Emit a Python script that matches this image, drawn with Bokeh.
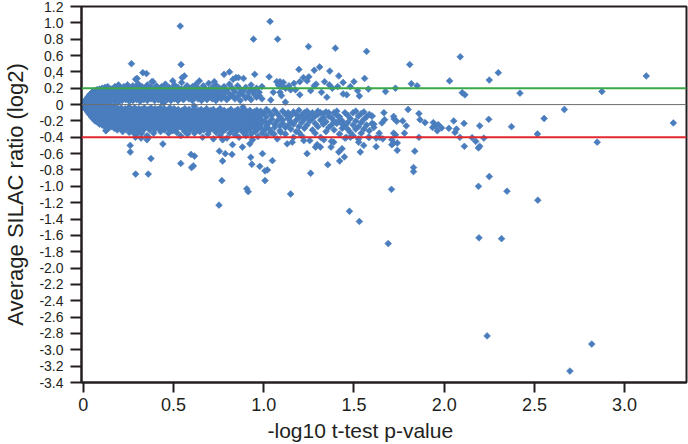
import math
from bokeh.plotting import figure
from bokeh.models import Range1d, FixedTicker, Span, Title
from bokeh.embed import file_html
from bokeh.resources import INLINE

# ---------------- chart values ----------------
upper_threshold = 0.2
lower_threshold = -0.4
zero_level = 0.0

x_ticks = [0, 0.5, 1.0, 1.5, 2.0, 2.5, 3.0]
x_tick_labels = ["0", "0.5", "1.0", "1.5", "2.0", "2.5", "3.0"]
y_ticks = [1.2, 1.0, 0.8, 0.6, 0.4, 0.2, 0, -0.2, -0.4, -0.6, -0.8, -1.0, -1.2,
           -1.4, -1.6, -1.8, -2.0, -2.2, -2.4, -2.6, -2.8, -3.0, -3.2, -3.4]
y_tick_labels = ["1.2", "1.0", "0.8", "0.6", "0,4", "0.2", "0", "-0.2", "-0.4",
                 "-0.6", "-0.8", "-1.0", "-1.2", "-1.4", "-1.6", "-1.8", "-2.0",
                 "-2.2", "-2.4", "-2.6", "-2.8", "-3.0", "-3.2", "-3.4"]

x_title = "-log10 t-test p-value"
y_title = "Average SILAC ratio (log2)"

# dense fan next to the origin: (x, [y values])
core_cols = [
    (0.0, [0.0, 0.02, -0.02]), (0.005, [0.03, -0.03, 0.0]), (0.01, [0.04, -0.01, -0.05, 0.02]),
    (0.015, [0.06, -0.06, 0.01, -0.03]), (0.02, [0.07, 0.03, -0.02, -0.07]),
    (0.025, [0.09, -0.09, 0.0, 0.05]), (0.03, [0.1, -0.04, 0.04, -0.1]),
    (0.035, [0.12, 0.06, -0.07, -0.12, 0.0]), (0.04, [0.13, -0.13, 0.02, -0.05, 0.08]),
    (0.045, [0.1, -0.15, 0.05, -0.09, -0.01]), (0.05, [0.15, 0.09, -0.03, -0.16, 0.03]),
    (0.055, [0.12, -0.11, 0.0, -0.06, 0.16]), (0.06, [0.17, 0.06, -0.14, -0.18, 0.02]),
    (0.065, [0.1, -0.08, -0.02, 0.14, -0.2]), (0.07, [0.16, 0.04, -0.12, -0.17, 0.08]),
    (0.075, [0.18, -0.05, 0.11, -0.21, 0.0]), (0.08, [0.13, -0.15, 0.06, -0.09, 0.18]),
    (0.085, [0.02, -0.19, 0.15, -0.03, -0.22]), (0.09, [0.09, 0.19, -0.13, -0.07, -0.24]),
    (0.095, [0.05, -0.17, 0.14, -0.01]), (0.1, [0.17, -0.1, 0.11, -0.21, -0.04]),
    (0.105, [0.2, 0.07, -0.14, -0.25]), (0.11, [0.13, 0.01, -0.18, -0.08]),
    (0.115, [0.16, -0.22, 0.09, -0.12]), (0.12, [0.21, 0.04, -0.06, -0.27]),
    (0.125, [0.11, -0.16, -0.32, 0.0]), (0.13, [0.18, 0.07, -0.2, -0.1]),
    (0.135, [0.14, -0.24, -0.03, 0.22]), (0.14, [0.1, -0.14, -0.07, 0.02]),
    (0.145, [0.19, -0.19, -0.28]), (0.15, [0.13, -0.11, 0.05, -0.23]),
]

# dense band below zero, x 0.15 - 0.5
low_band_a = [
    (0.152, [-0.04, -0.13, -0.22]), (0.158, [-0.08, -0.18, -0.27]),
    (0.165, [-0.02, -0.11, -0.24]), (0.172, [-0.06, -0.16, -0.29]),
    (0.18, [-0.03, -0.09, -0.2, -0.25]), (0.188, [-0.13, -0.22, -0.31]),
    (0.195, [-0.05, -0.17, -0.27]), (0.203, [-0.1, -0.2, -0.24]),
    (0.21, [-0.04, -0.14, -0.29]), (0.218, [-0.08, -0.19, -0.26, -0.33]),
    (0.226, [-0.12, -0.22]), (0.233, [-0.05, -0.16, -0.3]),
    (0.24, [-0.1, -0.2, -0.25]), (0.248, [-0.07, -0.14, -0.28]),
    (0.255, [-0.03, -0.18, -0.23, -0.34]), (0.263, [-0.11, -0.21, -0.3]),
    (0.27, [-0.06, -0.15, -0.26]), (0.278, [-0.09, -0.19, -0.24]),
    (0.285, [-0.04, -0.13, -0.29, -0.36]), (0.293, [-0.08, -0.17, -0.22]),
    (0.3, [-0.11, -0.2, -0.27]), (0.308, [-0.05, -0.15, -0.31]),
    (0.315, [-0.09, -0.18, -0.24]), (0.323, [-0.06, -0.13, -0.28, -0.35]),
    (0.33, [-0.1, -0.21, -0.26]), (0.338, [-0.04, -0.16, -0.3]),
    (0.345, [-0.08, -0.19, -0.23]), (0.353, [-0.12, -0.27, -0.38]),
    (0.36, [-0.06, -0.15, -0.21]), (0.368, [-0.1, -0.24, -0.31]),
    (0.375, [-0.04, -0.17, -0.28]), (0.383, [-0.08, -0.13, -0.22]),
    (0.39, [-0.11, -0.19, -0.26, -0.35]), (0.398, [-0.05, -0.15, -0.3]),
    (0.405, [-0.09, -0.21, -0.25]), (0.413, [-0.06, -0.13, -0.18]),
    (0.42, [-0.1, -0.23, -0.29]), (0.428, [-0.04, -0.16, -0.33]),
    (0.435, [-0.08, -0.2, -0.27]), (0.443, [-0.12, -0.17, -0.24]),
    (0.45, [-0.05, -0.14, -0.22, -0.31]), (0.458, [-0.09, -0.19, -0.28]),
    (0.465, [-0.07, -0.12, -0.25]), (0.473, [-0.15, -0.21, -0.35]),
    (0.48, [-0.04, -0.1, -0.18, -0.3]), (0.488, [-0.13, -0.23, -0.27]),
    (0.495, [-0.07, -0.16, -0.32]),
]

# dense band below zero, x 0.5 - 1.0
low_band_b = [
    (0.503, [-0.05, -0.11, -0.2, -0.26]), (0.51, [-0.14, -0.23, -0.3]),
    (0.518, [-0.08, -0.17, -0.34]), (0.526, [-0.06, -0.12, -0.21, -0.28]),
    (0.533, [-0.1, -0.19, -0.25]), (0.54, [-0.15, -0.23, -0.38]),
    (0.548, [-0.07, -0.13, -0.29]), (0.556, [-0.11, -0.18, -0.22]),
    (0.563, [-0.05, -0.16, -0.26, -0.33]), (0.571, [-0.09, -0.2, -0.28]),
    (0.578, [-0.13, -0.24, -0.36]), (0.586, [-0.06, -0.17, -0.21]),
    (0.593, [-0.1, -0.14, -0.27, -0.31]), (0.601, [-0.08, -0.19, -0.24]),
    (0.608, [-0.12, -0.22, -0.29]), (0.616, [-0.05, -0.16, -0.35]),
    (0.623, [-0.09, -0.2, -0.26]), (0.631, [-0.13, -0.18, -0.3]),
    (0.638, [-0.07, -0.23, -0.28]), (0.646, [-0.11, -0.16, -0.33]),
    (0.653, [-0.06, -0.14, -0.21, -0.27]), (0.661, [-0.1, -0.19, -0.4]),
    (0.668, [-0.08, -0.24, -0.31]), (0.676, [-0.12, -0.17, -0.22]),
    (0.683, [-0.05, -0.15, -0.26, -0.29]), (0.691, [-0.09, -0.2, -0.36]),
    (0.698, [-0.13, -0.23, -0.32]), (0.706, [-0.07, -0.18, -0.27]),
    (0.713, [-0.11, -0.15, -0.25]), (0.721, [-0.06, -0.21, -0.3, -0.42]),
    (0.728, [-0.1, -0.17, -0.28]), (0.736, [-0.14, -0.24, -0.34]),
    (0.743, [-0.08, -0.19, -0.22]), (0.751, [-0.12, -0.27, -0.31]),
    (0.758, [-0.05, -0.16, -0.25, -0.38]), (0.766, [-0.1, -0.2, -0.29]),
    (0.773, [-0.13, -0.23, -0.33]), (0.781, [-0.07, -0.18, -0.26]),
    (0.788, [-0.11, -0.21, -0.3]), (0.796, [-0.15, -0.24, -0.41]),
    (0.803, [-0.08, -0.17, -0.28]), (0.811, [-0.12, -0.22, -0.35]),
    (0.818, [-0.06, -0.19, -0.26]), (0.826, [-0.1, -0.14, -0.31]),
    (0.833, [-0.16, -0.23, -0.29]), (0.841, [-0.08, -0.2, -0.37]),
    (0.848, [-0.12, -0.25, -0.33]), (0.856, [-0.06, -0.17, -0.22]),
    (0.863, [-0.1, -0.28, -0.4]), (0.871, [-0.14, -0.19, -0.3]),
    (0.878, [-0.08, -0.23, -0.26]), (0.886, [-0.12, -0.17, -0.34]),
    (0.893, [-0.06, -0.21, -0.29]), (0.901, [-0.15, -0.25, -0.38]),
    (0.908, [-0.09, -0.19, -0.32]), (0.916, [-0.13, -0.23, -0.27]),
    (0.923, [-0.07, -0.16, -0.3]), (0.931, [-0.11, -0.21, -0.36]),
    (0.938, [-0.14, -0.25, -0.43]), (0.946, [-0.09, -0.18, -0.29]),
    (0.953, [-0.12, -0.22, -0.33]), (0.961, [-0.07, -0.16, -0.26]),
    (0.968, [-0.1, -0.2, -0.3, -0.39]), (0.976, [-0.14, -0.24]),
    (0.983, [-0.08, -0.18, -0.28]), (0.991, [-0.12, -0.22, -0.35]),
]

# looser band below zero, x 1.0 - 1.6
low_band_c = [
    (1.005, [-0.1, -0.2, -0.31]), (1.015, [-0.06, -0.15, -0.26, -0.38]),
    (1.03, [-0.09, -0.22, -0.3]), (1.045, [-0.13, -0.18, -0.34]),
    (1.06, [-0.07, -0.24, -0.28]), (1.075, [-0.11, -0.2, -0.42]),
    (1.09, [-0.15, -0.26, -0.32]), (1.105, [-0.08, -0.19, -0.23]),
    (1.12, [-0.12, -0.28, -0.36]), (1.135, [-0.1, -0.17, -0.25]),
    (1.15, [-0.14, -0.21, -0.3]), (1.165, [-0.09, -0.24, -0.4]),
    (1.18, [-0.12, -0.19, -0.33]), (1.195, [-0.07, -0.16, -0.27]),
    (1.21, [-0.13, -0.22, -0.38]), (1.225, [-0.1, -0.18, -0.29]),
    (1.24, [-0.08, -0.15, -0.25]), (1.255, [-0.12, -0.2, -0.44]),
    (1.27, [-0.1, -0.17, -0.31]), (1.285, [-0.14, -0.23, -0.35]),
    (1.3, [-0.08, -0.12, -0.27]), (1.315, [-0.1, -0.19, -0.4]),
    (1.33, [-0.11, -0.16, -0.24]), (1.345, [-0.09, -0.21, -0.33]),
    (1.36, [-0.1, -0.14, -0.28]), (1.375, [-0.16, -0.25, -0.45]),
    (1.39, [-0.1, -0.2, -0.31]), (1.405, [-0.08, -0.13, -0.23]),
    (1.42, [-0.15, -0.19, -0.36]), (1.435, [-0.2, -0.24, -0.29]),
    (1.45, [-0.1, -0.26, -0.41]), (1.465, [-0.13, -0.22, -0.3]),
    (1.48, [-0.17, -0.34]), (1.495, [-0.1, -0.25, -0.38]),
    (1.51, [-0.08, -0.2, -0.3]), (1.525, [-0.14, -0.27, -0.42]),
    (1.54, [-0.11, -0.22, -0.35]), (1.555, [-0.09, -0.18, -0.3]),
    (1.57, [-0.15, -0.25]), (1.585, [-0.12, -0.32, -0.4]),
    (1.6, [-0.14, -0.23]),
]

# band above zero, x 0.15 - 1.0
up_band = [
    (0.155, [0.05, 0.12, 0.19]), (0.165, [0.09, 0.16]),
    (0.175, [0.04, 0.14, 0.22]), (0.185, [0.07, 0.11, 0.18]),
    (0.195, [0.03, 0.15, 0.24]), (0.205, [0.08, 0.13, 0.2]),
    (0.215, [0.05, 0.1, 0.17]), (0.225, [0.12, 0.22]),
    (0.235, [0.06, 0.15, 0.19]), (0.245, [0.09, 0.13, 0.24]),
    (0.255, [0.04, 0.17, 0.21]), (0.265, [0.08, 0.12, 0.19]),
    (0.275, [0.05, 0.15, 0.23]), (0.285, [0.1, 0.18]),
    (0.295, [0.06, 0.13, 0.21]), (0.305, [0.09, 0.16, 0.25]),
    (0.315, [0.04, 0.12, 0.19]), (0.325, [0.08, 0.14, 0.22]),
    (0.335, [0.06, 0.17]), (0.345, [0.1, 0.13, 0.2]),
    (0.355, [0.05, 0.15, 0.24]), (0.365, [0.09, 0.18]),
    (0.375, [0.07, 0.12, 0.21]), (0.385, [0.11, 0.16]),
    (0.395, [0.05, 0.14, 0.19]), (0.405, [0.09, 0.23]),
    (0.415, [0.06, 0.12, 0.17]), (0.425, [0.1, 0.2]),
    (0.435, [0.04, 0.15, 0.22]), (0.445, [0.02, 0.08, 0.13]),
    (0.455, [0.11, 0.18, 0.25]), (0.465, [0.06, 0.16]),
    (0.475, [0.09, 0.13, 0.21]), (0.485, [0.05, 0.17]),
    (0.495, [0.11, 0.2]), (0.505, [0.07, 0.14, 0.24]),
    (0.515, [0.1, 0.18]), (0.525, [0.05, 0.13, 0.21]),
    (0.535, [0.08, 0.16]), (0.545, [0.11, 0.19, 0.27]),
    (0.555, [0.06, 0.14]), (0.565, [0.09, 0.2]),
    (0.575, [0.12, 0.17, 0.23]), (0.585, [0.07, 0.15]),
    (0.595, [0.1, 0.19]), (0.605, [0.05, 0.13, 0.22]),
    (0.615, [0.09, 0.17, -0.02]), (0.625, [0.12, 0.25]),
    (0.635, [0.07, 0.15, 0.2]), (0.645, [0.1, 0.18]),
    (0.655, [0.05, 0.13]), (0.665, [0.08, 0.16, 0.23]),
    (0.675, [0.11, 0.2]), (0.685, [0.06, 0.14]),
    (0.695, [0.09, 0.18, 0.26]), (0.705, [0.12, 0.16]),
    (0.715, [0.07, 0.21]), (0.725, [0.1, 0.14]),
    (0.735, [0.05, 0.18, 0.24]), (0.745, [0.09, 0.13]),
    (0.755, [0.11, 0.2]), (0.765, [0.07, 0.16]),
    (0.78, [0.1, 0.14, 0.22]), (0.795, [0.06, 0.18]),
    (0.81, [0.09, 0.13, 0.25]), (0.825, [0.11, 0.2]),
    (0.84, [0.07, 0.16]), (0.855, [0.1, 0.23]),
    (0.87, [0.05, 0.14, 0.19]), (0.885, [0.12, 0.17, -0.03]),
    (0.9, [0.08, 0.21]), (0.915, [0.1, 0.15]),
    (0.93, [0.06, 0.19, 0.24]), (0.945, [0.13, 0.17]),
    (0.96, [0.09, 0.2]), (0.975, [0.11, 0.15]),
    (0.99, [0.07, 0.22]),
]

# scattered points above the band
upper_points = [
    (0.537, 0.96), (1.035, 1.017), (0.943, 0.80), (1.077, 0.80), (1.248, 0.71),
    (1.397, 0.69), (1.570, 0.65), (0.267, 0.50), (0.542, 0.49), (0.33, 0.39),
    (0.35, 0.38), (0.38, 0.28), (0.29, 0.31), (0.298, 0.32), (0.303, 0.25),
    (0.386, 0.28), (0.78, 0.37), (0.81, 0.40), (0.95, 0.37), (0.86, 0.33),
    (0.83, 0.31), (0.548, 0.33), (0.56, 0.35), (0.496, 0.29), (0.643, 0.29),
    (0.726, 0.28), (0.846, 0.33), (0.888, 0.32), (1.03, 0.34), (1.195, 0.43),
    (1.28, 0.42), (1.31, 0.46), (1.366, 0.41), (1.416, 0.35), (1.559, 0.32),
    (1.50, 0.28), (1.22, 0.33), (1.25, 0.34), (1.24, 0.29), (1.337, 0.28),
    (1.44, 0.27), (1.364, 0.24), (1.29, 0.25), (1.28, 0.23), (1.20, 0.28),
    (1.46, 0.12), (1.53, 0.105), (1.072, 0.28), (1.09, 0.28), (1.109, 0.27),
    (1.081, 0.24), (1.103, 0.22), (1.09, 0.15), (1.098, 0.11), (1.121, 0.20),
    (1.14, 0.23), (1.149, 0.18), (1.168, 0.26), (1.176, 0.18), (1.053, 0.15),
    (1.039, 0.056), (1.2, 0.12), (1.26, 0.17), (1.32, 0.15), (1.38, 0.2),
    (1.44, 0.13), (1.48, 0.22), (1.52, 0.17), (1.58, 0.19), (1.35, 0.09),
    (1.41, 0.22), (1.12, 0.03),
]

# sparse points at large x
right_points = [
    (1.666, -0.10), (1.655, -0.225), (1.67, -0.185), (1.72, -0.145), (1.723, -0.175),
    (1.737, -0.205), (1.77, -0.20), (1.79, -0.26), (1.64, -0.35), (1.61, -0.24),
    (1.61, -0.28), (1.72, -0.35), (1.73, -0.37), (1.78, -0.35), (1.60, -0.14),
    (1.80, -0.06), (1.86, -0.11), (1.866, -0.185), (1.894, -0.22), (1.94, -0.22),
    (1.95, -0.26), (1.936, -0.28), (1.967, -0.245), (1.962, -0.32), (1.986, -0.285),
    (2.053, -0.20), (2.11, -0.23), (2.197, -0.26), (2.247, -0.18), (2.068, -0.30),
    (2.06, -0.34), (2.026, -0.29), (2.373, -0.27), (2.554, -0.17), (2.666, -0.06),
    (3.27, -0.225), (1.675, 0.16), (1.73, 0.20), (2.10, 0.145), (2.115, 0.12),
    (2.42, 0.14), (2.874, 0.16), (1.818, 0.255), (1.85, 0.23), (2.03, 0.29),
    (2.25, 0.30), (2.30, 0.39), (3.12, 0.35), (1.809, 0.49), (2.089, 0.585),
]

# scattered points below the band
lower_points = [
    (0.129, -0.31), (0.26, -0.50), (0.26, -0.58), (0.375, -0.66), (0.29, -0.85),
    (0.36, -0.85), (0.283, -0.327), (0.298, -0.36), (0.316, -0.34), (0.289, -0.40),
    (0.32, -0.41), (0.353, -0.43), (0.362, -0.40), (0.441, -0.482), (0.54, -0.72),
    (0.597, -0.61), (0.616, -0.63), (0.60, -0.77), (0.61, -0.75), (0.752, -1.23),
    (0.754, -0.57), (0.768, -0.93), (0.772, -0.69), (0.772, -0.43), (0.787, -0.60),
    (0.824, -0.61), (0.827, -0.49), (0.882, -0.52), (0.923, -0.48), (0.906, -1.03),
    (0.914, -1.065), (0.928, -0.645), (0.934, -0.73), (0.978, -0.755), (0.993, -0.60),
    (1.007, -0.81), (1.007, -0.93), (1.048, -0.686), (1.02, -0.80), (1.038, -0.34),
    (1.057, -0.36), (1.094, -0.34), (1.13, -0.48), (1.158, -0.46), (1.149, -1.094),
    (1.195, -0.34), (1.222, -0.44), (1.24, -0.60), (1.26, -0.84), (1.296, -0.49),
    (1.287, -0.52), (1.314, -0.52), (1.333, -0.43), (1.355, -0.735), (1.373, -0.52),
    (1.388, -0.46), (1.416, -0.58), (1.421, -0.69), (1.434, -0.54), (1.447, -0.64),
    (1.458, -0.40), (1.48, -0.40), (1.526, -0.46), (1.535, -0.58), (1.554, -0.50),
    (1.581, -0.40), (1.623, -0.515), (1.642, -0.40), (1.623, -0.41), (1.66, -0.42),
    (1.71, -0.43), (1.72, -0.47), (1.71, -0.49), (1.74, -0.47), (1.74, -0.56),
    (1.475, -1.305), (1.53, -1.43), (1.708, -1.037), (1.69, -1.70), (1.837, -0.57),
    (1.83, -0.77), (1.83, -0.82), (1.86, -0.40), (2.087, -0.40), (2.112, -0.51),
    (2.155, -0.405), (2.175, -0.45), (2.19, -0.53), (2.197, -0.51), (2.22, -0.41),
    (2.25, -0.88), (2.19, -1.00), (2.348, -1.06), (2.519, -1.17), (2.193, -1.63),
    (2.318, -1.64), (2.238, -2.83), (2.818, -2.93), (2.697, -3.26), (2.517, -0.36),
    (2.848, -0.46),
]

# ---------------- assemble ----------------
xs, ys = [], []
for cols in (core_cols, low_band_a, low_band_b, low_band_c, up_band):
    for xv, yl in cols:
        for yv in yl:
            xs.append(xv)
            ys.append(yv)
for pts in (upper_points, right_points, lower_points):
    for xv, yv in pts:
        xs.append(xv)
        ys.append(yv)

FONT = "Liberation Sans"
INK = "#231f20"
BLUE = "#4a7dbd"

p = figure(width=688, height=444, output_backend="svg", toolbar_location=None,
           x_range=Range1d(-0.01, 3.343), y_range=Range1d(-3.4, 1.2),
           min_border_left=78, min_border_right=2, min_border_top=6,
           min_border_bottom=62, title=None)
p.xgrid.visible = False
p.ygrid.visible = False
p.background_fill_color = "white"
p.border_fill_color = "white"
p.outline_line_color = INK
p.outline_line_width = 2
p.outline_line_alpha = 1.0

p.scatter(xs, ys, marker="square", size=4.8, angle=math.pi / 4,
          fill_color=BLUE, line_color=BLUE, line_width=0.6)

p.add_layout(Span(location=zero_level, dimension="width", line_color="#6d6d6d", line_width=1))
p.add_layout(Span(location=upper_threshold, dimension="width", line_color="#3aa847", line_width=2))
p.add_layout(Span(location=lower_threshold, dimension="width", line_color="#e2282e", line_width=2))

# x axis
xa = p.xaxis[0]
xa.ticker = FixedTicker(ticks=x_ticks)
xa.major_label_overrides = {t: l for t, l in zip(x_ticks, x_tick_labels)}
xa.minor_tick_line_color = None
xa.major_tick_in = 0
xa.major_tick_out = 10
xa.major_tick_line_width = 2
xa.major_tick_line_color = INK
xa.axis_line_width = 2
xa.axis_line_color = INK
xa.major_label_text_font = FONT
xa.major_label_text_font_size = "18px"
xa.major_label_text_color = INK
xa.major_label_standoff = 5

# y axis
ya = p.yaxis[0]
ya.ticker = FixedTicker(ticks=y_ticks)
ya.major_label_overrides = {t: l for t, l in zip(y_ticks, y_tick_labels)}
ya.minor_tick_line_color = None
ya.major_tick_in = 0
ya.major_tick_out = 11
ya.major_tick_line_width = 2
ya.major_tick_line_color = INK
ya.axis_line_width = 2
ya.axis_line_color = INK
ya.major_label_text_font = FONT
ya.major_label_text_font_size = "14px"
ya.major_label_text_color = INK
ya.major_label_standoff = 7
ya.axis_label = y_title
ya.axis_label_text_font = FONT
ya.axis_label_text_font_size = "22px"
ya.axis_label_text_font_style = "normal"
ya.axis_label_text_color = INK
ya.axis_label_standoff = 8

# x axis title, placed in the bottom panel with a left offset
p.add_layout(Title(text=x_title, align="left", offset=186, standoff=6,
                   text_font=FONT, text_font_size="21px", text_font_style="normal",
                   text_color=INK), "below")

open("out.html", "w").write(file_html(p, INLINE))
